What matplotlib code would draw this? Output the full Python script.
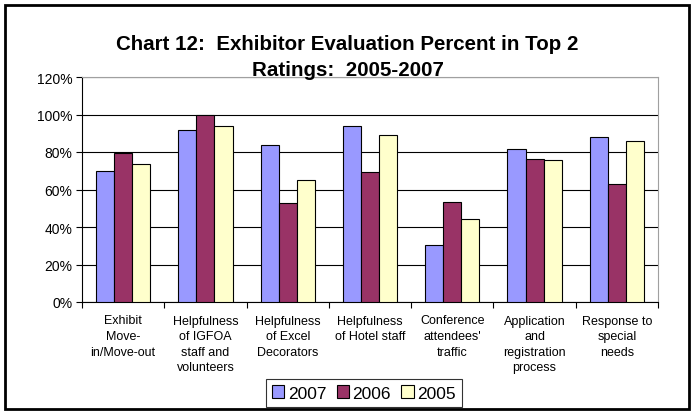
import numpy as np
import matplotlib.pyplot as plt
from matplotlib.patches import Rectangle

plt.rcParams['font.family'] = ['Liberation Sans', 'DejaVu Sans']

# categories and values (percent in top 2 ratings)
categories = [
    "Exhibit\nMove-\nin/Move-out",
    "Helpfulness\nof IGFOA\nstaff and\nvolunteers",
    "Helpfulness\nof Excel\nDecorators",
    "Helpfulness\nof Hotel staff",
    "Conference\nattendees'\ntraffic",
    "Application\nand\nregistration\nprocess",
    "Response to\nspecial\nneeds",
]
years = ["2007", "2006", "2005"]
vals_2007 = [70, 91.5, 84, 94, 30.5, 81.5, 88]
vals_2006 = [79.5, 100, 53, 69.5, 53.5, 76.5, 63]
vals_2005 = [73.5, 94, 65, 89, 44.5, 75.5, 86]
colors = ["#9999FF", "#993366", "#FFFFCC"]

fig = plt.figure(figsize=(6.95, 4.14), dpi=100)
ax = fig.add_axes([82/695, 1 - 303/414, (658-82)/695, (303-78)/414])

x = np.arange(len(categories))
w = 0.22
for i, (vals, c, lab) in enumerate(zip([vals_2007, vals_2006, vals_2005], colors, years)):
    ax.bar(x + (i - 1) * w, vals, w, color=c, edgecolor="black", linewidth=0.8,
           label=lab, zorder=3)

ax.set_xlim(-0.5, len(categories) - 0.5)
ax.set_ylim(0, 120)
ax.set_yticks(np.arange(0, 121, 20))
ax.set_yticklabels([f"{v}%" for v in range(0, 121, 20)], fontsize=10)
ax.yaxis.grid(True, color="black", linewidth=0.8, zorder=0)

ax.set_xticks(x)
ax.set_xticklabels(categories, fontsize=9, linespacing=1.4, va="top")
ax.tick_params(axis="x", length=0, pad=9)
ax.set_xticks(np.arange(-0.5, len(categories), 1), minor=True)
ax.tick_params(axis="x", which="minor", length=4, width=0.8, direction="out")
ax.tick_params(axis="y", length=4, width=0.8, direction="out", pad=3)

for side in ["top", "right"]:
    ax.spines[side].set_color("#a0a0a0")
for side in ["left", "bottom"]:
    ax.spines[side].set_color("black")
    ax.spines[side].set_linewidth(0.8)

fig.text(0.5, 1 - 44/414, "Chart 12:  Exhibitor Evaluation Percent in Top 2",
         ha="center", va="center", fontsize=14.8, fontweight="bold")
fig.text(0.5, 1 - 71/414, "Ratings:  2005-2007",
         ha="center", va="center", fontsize=14.8, fontweight="bold")

leg = fig.legend(loc="center", bbox_to_anchor=(364/695, 1 - 394/414), ncol=3,
                 fontsize=12.5, frameon=True, fancybox=False, edgecolor="black",
                 handlelength=0.7, handleheight=0.7, handletextpad=0.2,
                 columnspacing=0.6, borderpad=0.35, borderaxespad=0)
leg.get_frame().set_linewidth(0.8)
for h in leg.legend_handles:
    h.set_linewidth(0.8)

fig.patches.append(Rectangle((5/695, 4/414), 684/695, 404/414, transform=fig.transFigure,
                             fill=False, edgecolor="black", linewidth=2))

fig.savefig("out.png", dpi=100)
